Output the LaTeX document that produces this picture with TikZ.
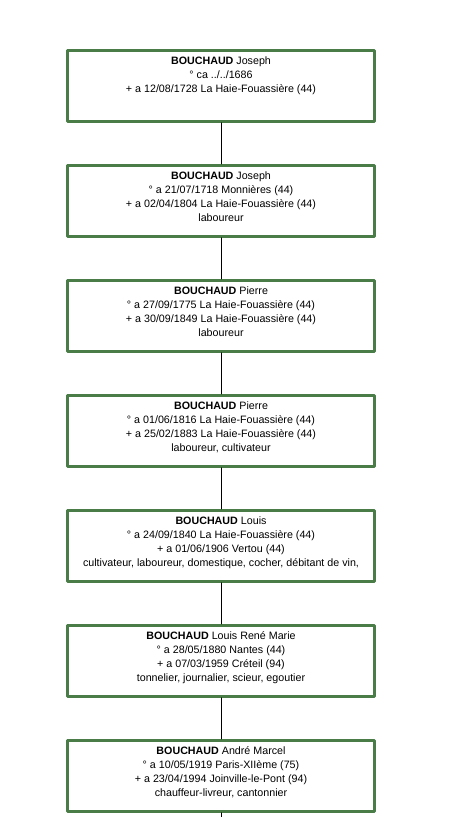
\documentclass[tikz,border=0pt]{standalone}
\usepackage{fontspec}
\setmainfont{Liberation Sans}
\usetikzlibrary{positioning}
\definecolor{boxgreen}{HTML}{4A7C47}
\tikzset{
  every picture/.style={line join=round, line cap=round},
  person/.style={draw=boxgreen, line width=3pt, rectangle, inner sep=0pt,
    minimum width=307pt, minimum height=70.7pt},
  info/.style={inner sep=0pt, align=center, font=\fontsize{10.7}{14}\selectfont},
  link/.style={line width=0.8pt, black},
}

\begin{document}
\begin{tikzpicture}[x=1pt,y=1pt]
\useasboundingbox (0,0) rectangle (449,-817);
% generations, oldest at the top
\node[person] (p1) at (221,-85.85) {};
\node[info, below=7.5pt of p1.north] (t1) {\textbf{BOUCHAUD} Joseph\\ ° ca ../../1686\\ + a 12/08/1728 La Haie-Fouassière (44)};
\node[person] (p2) at (221,-200.85) {};
\node[info, below=7.5pt of p2.north] (t2) {\textbf{BOUCHAUD} Joseph\\ ° a 21/07/1718 Monnières (44)\\ + a 02/04/1804 La Haie-Fouassière (44)\\ laboureur};
\node[person] (p3) at (221,-315.85) {};
\node[info, below=7.5pt of p3.north] (t3) {\textbf{BOUCHAUD} Pierre\\ ° a 27/09/1775 La Haie-Fouassière (44)\\ + a 30/09/1849 La Haie-Fouassière (44)\\ laboureur};
\node[person] (p4) at (221,-430.85) {};
\node[info, below=7.5pt of p4.north] (t4) {\textbf{BOUCHAUD} Pierre\\ ° a 01/06/1816 La Haie-Fouassière (44)\\ + a 25/02/1883 La Haie-Fouassière (44)\\ laboureur, cultivateur};
\node[person] (p5) at (221,-545.85) {};
\node[info, below=7.5pt of p5.north] (t5) {\textbf{BOUCHAUD} Louis\\ ° a 24/09/1840 La Haie-Fouassière (44)\\ + a 01/06/1906 Vertou (44)\\ cultivateur, laboureur, domestique, cocher, débitant de vin,};
\node[person] (p6) at (221,-660.85) {};
\node[info, below=7.5pt of p6.north] (t6) {\textbf{BOUCHAUD} Louis René Marie\\ ° a 28/05/1880 Nantes (44)\\ + a 07/03/1959 Créteil (94)\\ tonnelier, journalier, scieur, egoutier};
\node[person] (p7) at (221,-775.85) {};
\node[info, below=7.5pt of p7.north] (t7) {\textbf{BOUCHAUD} André Marcel\\ ° a 10/05/1919 Paris-XIIème (75)\\ + a 23/04/1994 Joinville-le-Pont (94)\\ chauffeur-livreur, cantonnier};
\coordinate (tail) at (221,-817);
% links
\foreach \a/\b in {p1/p2,p2/p3,p3/p4,p4/p5,p5/p6,p6/p7}
  \draw[link] (\a.south) -- (\b.north);
\draw[link] (p7.south) -- (tail);
\end{tikzpicture}
\end{document}
